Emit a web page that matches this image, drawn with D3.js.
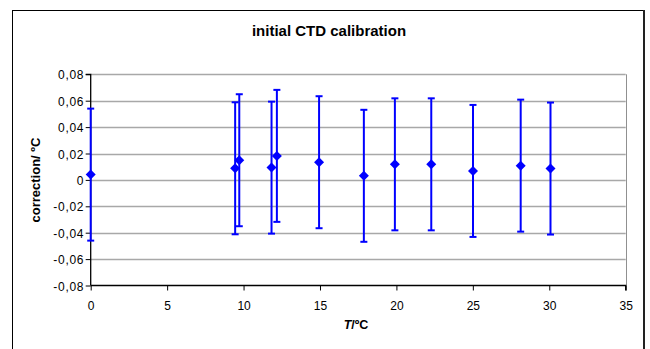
<!DOCTYPE html>
<html><head><meta charset="utf-8">
<script src="https://cdn.jsdelivr.net/npm/d3@7"></script>
<style>body{margin:0;background:#fff;}svg{display:block;font-family:Arial,"Liberation Sans",sans-serif;}</style>
</head><body>
<svg id="c" width="650" height="349"></svg>
<script>
const temps = [0, 9.45, 9.72, 11.83, 12.18, 14.94, 17.87, 19.9, 22.28, 25.01, 28.13, 30.08];
const corrections = [0.004, 0.0088, 0.0149, 0.0093, 0.0182, 0.0134, 0.0031, 0.0118, 0.0118, 0.0068, 0.0108, 0.0086];
const errors = [0.05, 0.05, 0.05, 0.05, 0.05, 0.05, 0.05, 0.05, 0.05, 0.05, 0.05, 0.05];
const xTicks = [0, 5, 10, 15, 20, 25, 30, 35];
const yTicks = [-0.08, -0.06, -0.04, -0.02, 0, 0.02, 0.04, 0.06, 0.08];
const title = "initial CTD calibration";

const svg = d3.select("#c");
const L = 90.7, R = 625.7, T = 74.3, B = 285.5;
const x = d3.scaleLinear().domain([0, 35]).range([L, R]);
const y = d3.scaleLinear().domain([-0.08, 0.08]).range([B, T]);
const blue = "#0000ff";

// outer chart border
svg.append("rect").attr("x", 12.5).attr("y", 10.5).attr("width", 631).attr("height", 345)
  .attr("fill", "none").attr("stroke", "#000").attr("stroke-width", 1);
svg.append("line").attr("x1", 644).attr("x2", 644).attr("y1", 10).attr("y2", 349).attr("stroke", "#222").attr("stroke-width", 2);

// gridlines
svg.append("g").selectAll("line").data(yTicks.filter(d => d > -0.08)).join("line")
  .attr("x1", L).attr("x2", R).attr("y1", d => Math.round(y(d)) + 0.5).attr("y2", d => Math.round(y(d)) + 0.5)
  .attr("stroke", "#a8a8a8").attr("stroke-width", 1.3);
// plot right border
svg.append("line").attr("x1", Math.round(R) + 0.5).attr("x2", Math.round(R) + 0.5).attr("y1", y(0.08)).attr("y2", B)
  .attr("stroke", "#909090").attr("stroke-width", 1);

const fmt = d => d3.format(".2f")(d).replace(".", ",").replace("−", "-");
const yAxis = d3.axisLeft(y).tickValues(yTicks).tickSize(5).tickPadding(2)
  .tickFormat(d => d === 0 ? "0" : fmt(d));
const gy = svg.append("g").attr("transform", `translate(${L},0)`).call(yAxis);
const xAxis = d3.axisBottom(x).tickValues(xTicks).tickSize(5).tickFormat(d3.format("d"));
const gx = svg.append("g").attr("transform", `translate(0,${B})`).call(xAxis);
[gx, gy].forEach(g => {
  g.select(".domain").attr("stroke", "#000").attr("stroke-width", 1.3);
  g.selectAll(".tick line").attr("stroke", "#000");
  g.selectAll(".tick text").attr("fill", "#000").attr("font-family", "Arial, 'Liberation Sans', sans-serif");
});
gx.selectAll(".tick text").attr("font-size", "12px").attr("dy", null).attr("y", 24.5);
gy.selectAll(".tick text").attr("font-size", "12px").attr("letter-spacing", "0.7px").attr("x", -6.5).attr("dy", "0.38em");
gy.select(".domain").attr("d", `M-5,${y(0.08)}H0V${B}`);
gx.select(".domain").attr("d", `M${L},0H${R}V5`);

// data
const pts = temps.map((t, i) => ({t, c: corrections[i], e: errors[i]}));
const eg = svg.append("g").attr("stroke", blue).attr("stroke-width", 2);
pts.forEach(p => {
  eg.append("line").attr("x1", x(p.t)).attr("x2", x(p.t)).attr("y1", y(p.c + p.e)).attr("y2", y(p.c - p.e));
  eg.append("line").attr("x1", x(p.t) - 3.5).attr("x2", x(p.t) + 3.5).attr("y1", y(p.c + p.e)).attr("y2", y(p.c + p.e));
  eg.append("line").attr("x1", x(p.t) - 3.5).attr("x2", x(p.t) + 3.5).attr("y1", y(p.c - p.e)).attr("y2", y(p.c - p.e));
});
svg.append("g").selectAll("path").data(pts).join("path")
  .attr("d", d => { const cx = x(d.t), cy = y(d.c), s = 5; return `M${cx},${cy - s}L${cx + s},${cy}L${cx},${cy + s}L${cx - s},${cy}Z`; })
  .attr("fill", blue);

// titles
svg.append("text").attr("x", 329).attr("y", 36).attr("text-anchor", "middle")
  .attr("font-size", "15px").attr("font-weight", "bold").text(title);
svg.append("text").attr("transform", "translate(40,180) rotate(-90)").attr("text-anchor", "middle")
  .attr("font-size", "13px").attr("font-weight", "bold").text("correction/ ºC");
const xl = svg.append("text").attr("x", 356).attr("y", 329).attr("text-anchor", "middle")
  .attr("font-size", "12.5px").attr("font-weight", "bold");
xl.append("tspan").attr("font-style", "italic").text("T");
xl.append("tspan").text("/ºC");
</script>
</body></html>
